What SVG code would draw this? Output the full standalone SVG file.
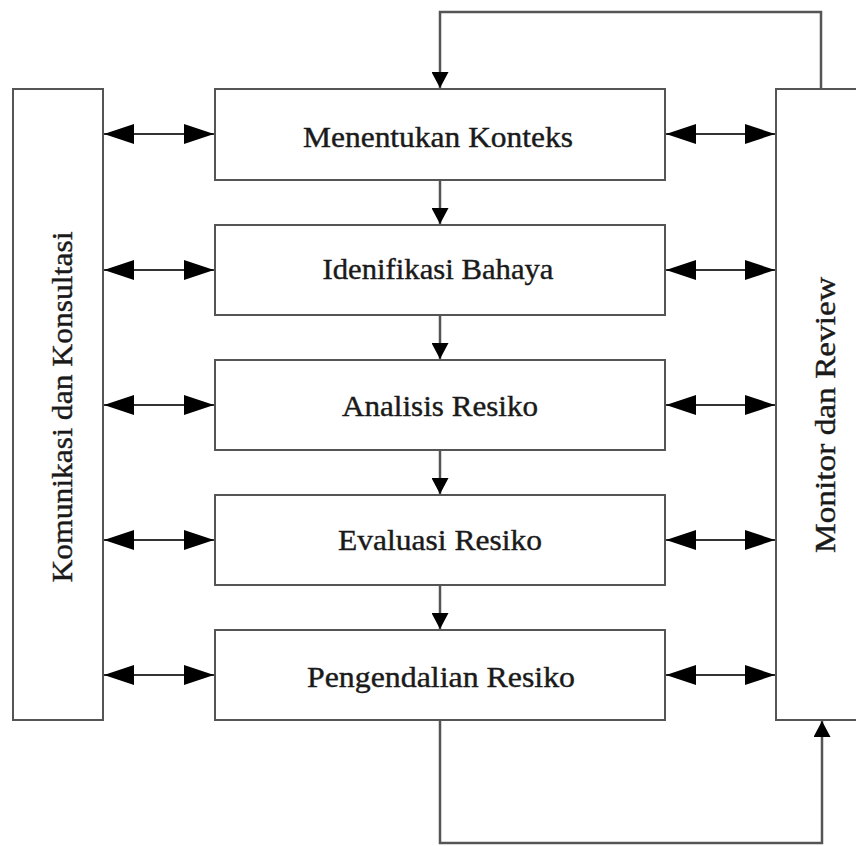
<svg xmlns="http://www.w3.org/2000/svg" width="856" height="846" viewBox="0 0 856 846">
<style>
.box{fill:#fff;stroke:#555;stroke-width:2}
.lbl{font-family:"Liberation Serif","Times New Roman",serif;font-size:30px;fill:#1a1a1a;stroke:#1a1a1a;stroke-width:0.4;text-anchor:middle}
.ln{fill:none;stroke:#333;stroke-width:2}
.fb{stroke:#555;stroke-width:2.5;fill:none}
</style>
<defs>
<marker id="ah" viewBox="0 0 30 20" refX="30" refY="10" markerWidth="30" markerHeight="20" markerUnits="userSpaceOnUse" orient="auto-start-reverse">
<path d="M0,0 L30,10 L0,20 Z" fill="#000"/>
</marker>
<marker id="dn" viewBox="0 0 16 17" refX="16" refY="8.5" markerWidth="16" markerHeight="17" markerUnits="userSpaceOnUse" orient="auto">
<path d="M0,0 L16,8.5 L0,17 Z" fill="#000"/>
</marker>
</defs>
<rect width="856" height="846" fill="#fff"/>
<g id="komunikasi">
<rect class="box" x="13" y="89" width="90" height="631"/>
<text class="lbl" transform="translate(72,407) rotate(-90)" textLength="351" lengthAdjust="spacingAndGlyphs">Komunikasi dan Konsultasi</text>
</g>
<g id="monitor">
<rect class="box" x="776" y="89" width="100" height="631"/>
<text class="lbl" transform="translate(835,415) rotate(-90)" textLength="276" lengthAdjust="spacingAndGlyphs">Monitor dan Review</text>
</g>
<g id="konteks">
<rect class="box" x="215" y="89" width="450" height="91"/>
<text class="lbl" x="438" y="147" textLength="270" lengthAdjust="spacingAndGlyphs">Menentukan Konteks</text>
</g>
<g id="identifikasi">
<rect class="box" x="215" y="225" width="450" height="90"/>
<text class="lbl" x="438" y="279" textLength="231" lengthAdjust="spacingAndGlyphs">Idenifikasi Bahaya</text>
</g>
<g id="analisis">
<rect class="box" x="215" y="360" width="450" height="90"/>
<text class="lbl" x="440" y="416" textLength="196" lengthAdjust="spacingAndGlyphs">Analisis Resiko</text>
</g>
<g id="evaluasi">
<rect class="box" x="215" y="495" width="450" height="90"/>
<text class="lbl" x="440" y="550" textLength="204" lengthAdjust="spacingAndGlyphs">Evaluasi Resiko</text>
</g>
<g id="pengendalian">
<rect class="box" x="215" y="630" width="450" height="90"/>
<text class="lbl" x="441" y="687" textLength="268" lengthAdjust="spacingAndGlyphs">Pengendalian Resiko</text>
</g>
<g id="connectors">
<line class="ln" x1="104" y1="134" x2="214" y2="134" marker-start="url(#ah)" marker-end="url(#ah)"/>
<line class="ln" x1="104" y1="270" x2="214" y2="270" marker-start="url(#ah)" marker-end="url(#ah)"/>
<line class="ln" x1="104" y1="405" x2="214" y2="405" marker-start="url(#ah)" marker-end="url(#ah)"/>
<line class="ln" x1="104" y1="540" x2="214" y2="540" marker-start="url(#ah)" marker-end="url(#ah)"/>
<line class="ln" x1="104" y1="675" x2="214" y2="675" marker-start="url(#ah)" marker-end="url(#ah)"/>
<line class="ln" x1="666" y1="134" x2="775" y2="134" marker-start="url(#ah)" marker-end="url(#ah)"/>
<line class="ln" x1="666" y1="270" x2="775" y2="270" marker-start="url(#ah)" marker-end="url(#ah)"/>
<line class="ln" x1="666" y1="405" x2="775" y2="405" marker-start="url(#ah)" marker-end="url(#ah)"/>
<line class="ln" x1="666" y1="540" x2="775" y2="540" marker-start="url(#ah)" marker-end="url(#ah)"/>
<line class="ln" x1="666" y1="675" x2="775" y2="675" marker-start="url(#ah)" marker-end="url(#ah)"/>
<line class="fb" x1="440" y1="181" x2="440" y2="224" marker-end="url(#dn)"/>
<line class="fb" x1="440" y1="316" x2="440" y2="359" marker-end="url(#dn)"/>
<line class="fb" x1="440" y1="451" x2="440" y2="494" marker-end="url(#dn)"/>
<line class="fb" x1="440" y1="586" x2="440" y2="629" marker-end="url(#dn)"/>
<polyline class="fb" points="821,88 821,12 440,12 440,88" marker-end="url(#dn)"/>
<polyline class="fb" points="440,721 440,843 822,843 822,721" marker-end="url(#dn)"/>
</g>
</svg>
